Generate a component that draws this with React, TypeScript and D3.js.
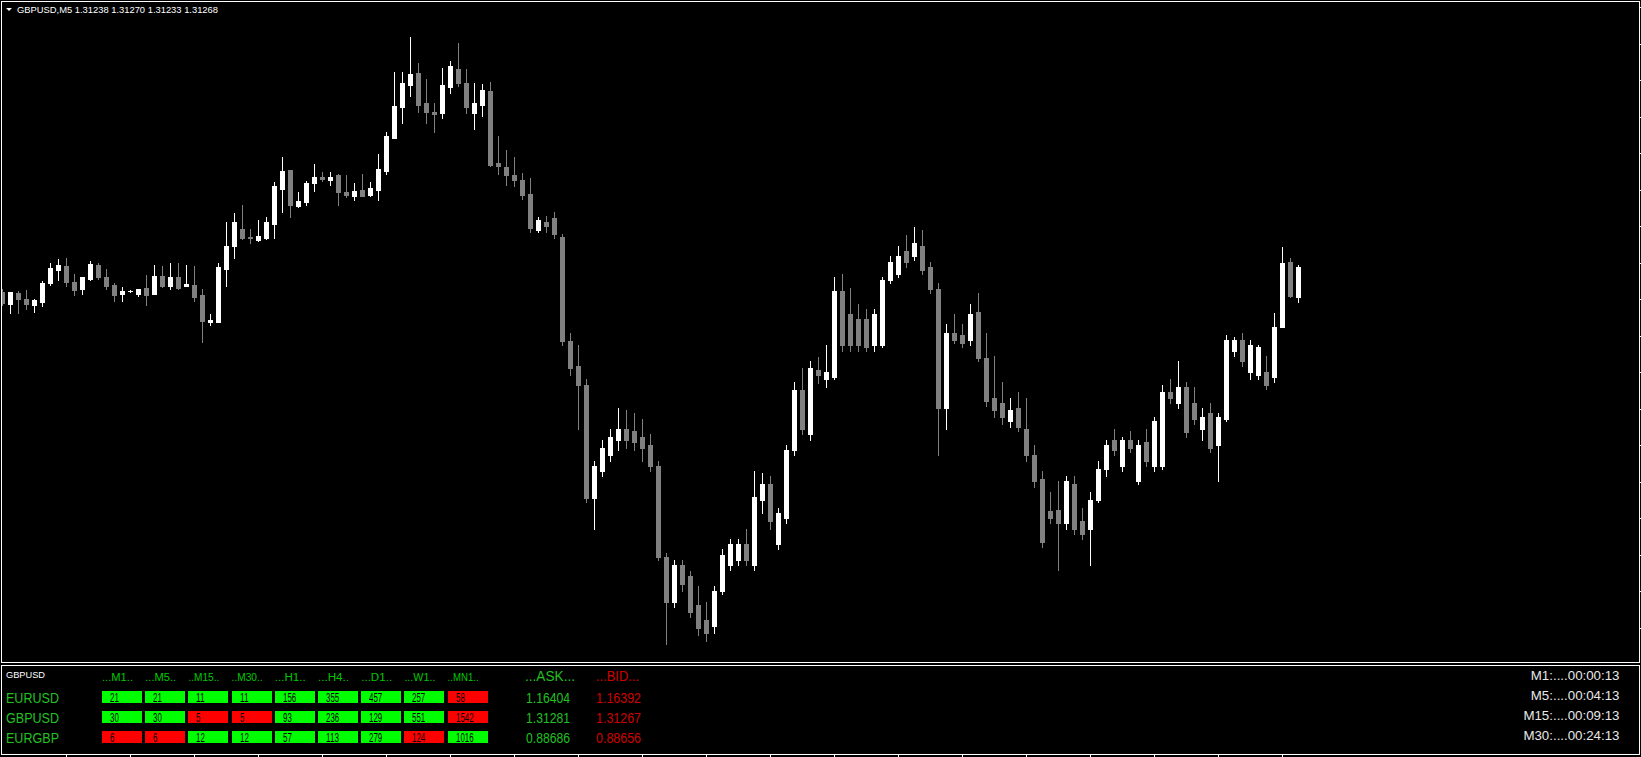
import React from 'react';
import * as d3 from 'd3';

// ---- price data (GBPUSD M5), oldest first ----
const opens = [
  1.31243,1.31231,1.31242,1.31236,1.31230,1.31233,1.31252,1.31265,1.31269,1.31253,
  1.31246,1.31256,1.31270,1.31258,1.31250,1.31241,1.31244,1.31241,1.31247,1.31241,
  1.31259,1.31249,1.31258,1.31249,1.31250,1.31240,1.31213,1.31213,1.31266,1.31289,
  1.31306,1.31298,1.31295,1.31297,1.31311,1.31346,1.31365,1.31329,1.31333,1.31352,
  1.31358,1.31355,1.31360,1.31343,1.31339,1.31345,1.31340,1.31345,1.31364,1.31397,
  1.31428,1.31450,1.31462,1.31432,1.31423,1.31422,1.31448,1.31466,1.31452,1.31422,
  1.31430,1.31444,1.31372,1.31368,1.31360,1.31355,1.31341,1.31305,1.31313,1.31317,
  1.31298,1.31194,1.31169,1.31150,1.31037,1.31064,1.31080,1.31095,1.31106,1.31104,
  1.31098,1.31090,1.31069,1.30978,1.30933,1.30970,1.30959,1.30930,1.30915,1.30909,
  1.30944,1.30970,1.30975,1.30991,1.30970,1.31035,1.31051,1.30991,1.31017,1.31085,
  1.31145,1.31101,1.31165,1.31156,1.31158,1.31244,1.31221,1.31216,1.31216,1.31190,1.31190,
  1.31255,1.31261,1.31284,1.31279,1.31289,1.31268,1.31246,1.31127,1.31202,1.31200,
  1.31195,1.31223,1.31177,1.31137,1.31132,1.31114,1.31127,1.31106,1.31080,1.31056,
  1.31024,1.31025,1.31012,1.31051,1.31014,1.31006,1.31035,1.31066,1.31095,
  1.31069,1.31095,1.31054,1.31093,1.31069,1.31069,1.31143,1.31132,1.31148,1.31132,
  1.31106,1.31122,1.31090,1.31116,1.31184,1.31195,1.31163,1.31160,1.31163,1.31158,
  1.31208,1.31273,1.31238,
];
const highs = [
  1.31246,1.31243,1.31244,1.31245,1.31236,1.31254,1.31272,1.31276,1.31277,1.31261,
  1.31258,1.31274,1.31272,1.31266,1.31252,1.31248,1.31245,1.31246,1.31260,1.31270,
  1.31269,1.31272,1.31272,1.31270,1.31269,1.31246,1.31221,1.31272,1.31313,1.31322,
  1.31330,1.31306,1.31315,1.31318,1.31353,1.31378,1.31365,1.31343,1.31354,1.31371,
  1.31363,1.31363,1.31361,1.31360,1.31352,1.31361,1.31353,1.31381,1.31403,1.31463,
  1.31463,1.31498,1.31472,1.31456,1.31432,1.31467,1.31474,1.31492,1.31466,1.31452,
  1.31451,1.31453,1.31399,1.31385,1.31378,1.31362,1.31357,1.31318,1.31319,1.31323,
  1.31301,1.31202,1.31190,1.31156,1.31074,1.31095,1.31106,1.31127,1.31125,1.31122,
  1.31116,1.31101,1.31074,1.30982,1.30975,1.30975,1.30964,1.30949,1.30933,1.30949,
  1.30986,1.30996,1.30996,1.31006,1.31064,1.31062,1.31059,1.31027,1.31090,1.31153,
  1.31167,1.31174,1.31178,1.31190,1.31258,1.31261,1.31247,1.31231,1.31226,1.31226,1.31258,
  1.31279,1.31289,1.31300,1.31308,1.31305,1.31273,1.31252,1.31211,1.31221,1.31211,
  1.31231,1.31242,1.31202,1.31179,1.31153,1.31137,1.31143,1.31137,1.31090,1.31064,
  1.31043,1.31054,1.31059,1.31059,1.31027,1.31043,1.31074,1.31095,1.31106,
  1.31098,1.31104,1.31095,1.31106,1.31118,1.31150,1.31156,1.31174,1.31153,1.31148,
  1.31127,1.31132,1.31122,1.31200,1.31198,1.31202,1.31195,1.31190,1.31179,1.31222,
  1.31288,1.31277,1.31270,
];
const lows = [
  1.31230,1.31222,1.31222,1.31226,1.31223,1.31229,1.31250,1.31255,1.31249,1.31240,
  1.31241,1.31255,1.31256,1.31246,1.31234,1.31234,1.31243,1.31239,1.31230,1.31241,
  1.31248,1.31246,1.31246,1.31249,1.31234,1.31193,1.31210,1.31213,1.31249,1.31277,
  1.31296,1.31292,1.31294,1.31296,1.31297,1.31323,1.31318,1.31328,1.31330,1.31344,
  1.31354,1.31350,1.31330,1.31338,1.31335,1.31339,1.31339,1.31335,1.31361,1.31397,
  1.31412,1.31439,1.31423,1.31412,1.31403,1.31417,1.31442,1.31449,1.31422,1.31406,
  1.31419,1.31369,1.31361,1.31350,1.31349,1.31336,1.31303,1.31303,1.31303,1.31297,
  1.31190,1.31160,1.31106,1.31033,1.31006,1.31059,1.31074,1.31085,1.31087,1.31085,
  1.31074,1.31064,1.30975,1.30891,1.30928,1.30944,1.30918,1.30900,1.30894,1.30902,
  1.30941,1.30965,1.30970,1.30970,1.30965,1.31022,1.31006,1.30986,1.31012,1.31080,
  1.31101,1.31095,1.31152,1.31148,1.31156,1.31184,1.31184,1.31184,1.31184,1.31184,1.31188,
  1.31252,1.31258,1.31268,1.31275,1.31261,1.31242,1.31080,1.31106,1.31192,1.31188,
  1.31190,1.31174,1.31129,1.31118,1.31111,1.31108,1.31104,1.31074,1.31048,1.30988,
  1.31012,1.30965,1.31006,1.31001,1.30996,1.30970,1.31033,1.31059,1.31080,
  1.31064,1.31083,1.31051,1.31069,1.31064,1.31066,1.31132,1.31127,1.31098,1.31111,
  1.31095,1.31083,1.31054,1.31114,1.31179,1.31169,1.31156,1.31156,1.31146,1.31153,
  1.31208,1.31238,1.31233,
];
const closes = [
  1.31232,1.31243,1.31236,1.31231,1.31235,1.31252,1.31267,1.31270,1.31253,1.31245,
  1.31258,1.31271,1.31258,1.31249,1.31240,1.31244,1.31244,1.31246,1.31240,1.31259,
  1.31249,1.31258,1.31247,1.31251,1.31238,1.31214,1.31215,1.31268,1.31289,1.31313,
  1.31297,1.31297,1.31299,1.31313,1.31349,1.31364,1.31330,1.31334,1.31352,1.31358,
  1.31356,1.31358,1.31343,1.31340,1.31344,1.31339,1.31347,1.31366,1.31399,1.31429,
  1.31452,1.31461,1.31430,1.31423,1.31421,1.31450,1.31469,1.31452,1.31428,1.31432,
  1.31445,1.31370,1.31369,1.31360,1.31355,1.31340,1.31307,1.31315,1.31309,1.31301,
  1.31194,1.31167,1.31150,1.31037,1.31069,1.31087,1.31098,1.31106,1.31095,1.31093,
  1.31087,1.31069,1.30978,1.30933,1.30970,1.30951,1.30923,1.30907,1.30902,1.30944,
  1.30980,1.30991,1.30991,1.30975,1.31038,1.31051,1.31014,1.31022,1.31085,1.31145,
  1.31106,1.31167,1.31160,1.31163,1.31244,1.31190,1.31190,1.31190,1.31188,1.31221,1.31255,
  1.31273,1.31279,1.31273,1.31292,1.31265,1.31246,1.31127,1.31202,1.31195,1.31192,
  1.31221,1.31177,1.31134,1.31125,1.31118,1.31125,1.31108,1.31080,1.31054,1.30993,
  1.31017,1.31012,1.31054,1.31006,1.31001,1.31035,1.31066,1.31090,1.31085,
  1.31095,1.31087,1.31090,1.31074,1.31114,1.31143,1.31137,1.31148,1.31103,1.31116,
  1.31118,1.31087,1.31118,1.31195,1.31195,1.31174,1.31190,1.31188,1.31150,1.31208,
  1.31272,1.31239,1.31268,
];

const headerText = 'GBPUSD,M5  1.31238 1.31270 1.31233 1.31268';
const panelSymbol = 'GBPUSD';
const pairs = ['EURUSD', 'GBPUSD', 'EURGBP'];
const timeframes = ['...M1..', '...M5..', '..M15..', '..M30..', '...H1..', '...H4..', '...D1..', '...W1..', '..MN1..'];
const strengthEURUSD = [21, 21, 11, 11, 156, 355, 457, 257, 58];
const strengthGBPUSD = [30, 30, 5, 5, 93, 236, 129, 551, 1542];
const strengthEURGBP = [6, 6, 12, 12, 57, 113, 279, 124, 1016];
const upEURUSD = [1, 1, 1, 1, 1, 1, 1, 1, 0];
const upGBPUSD = [1, 1, 0, 0, 1, 1, 1, 1, 0];
const upEURGBP = [0, 0, 1, 1, 1, 1, 1, 0, 1];
const askPrices = ['1.16404', '1.31281', '0.88686'];
const bidPrices = ['1.16392', '1.31267', '0.88656'];
const timerLabels = ['M1:....00:00:13', 'M5:....00:04:13', 'M15:....00:09:13', 'M30:....00:24:13'];

const W = 1641;
const H = 757;
const FONT = "'Liberation Sans', Arial, sans-serif";

export default function App() {
  const n = opens.length;
  const x = d3.scaleLinear().domain([0, 1]).range([2, 10]);
  const y = d3.scaleLinear().domain([1.31533, 1.30873]).range([2, 662]);

  const candles = d3.range(n).map((i) => {
    const o = opens[i], c = closes[i], hi = highs[i], lo = lows[i];
    const cx = Math.round(x(i));
    const top = Math.round(y(Math.max(o, c)));
    const bot = Math.round(y(Math.min(o, c)));
    const wt = Math.round(y(hi));
    const wb = Math.round(y(lo));
    const col = c >= o ? '#ffffff' : '#808080';
    return (
      <g key={i} fill={col}>
        <rect x={cx} y={wt} width={1} height={Math.max(1, wb - wt + 1)} />
        <rect x={cx - 2} y={top} width={5} height={Math.max(1, bot - top + 1)} />
      </g>
    );
  });

  const rows = [
    { name: pairs[0], vals: strengthEURUSD, up: upEURUSD },
    { name: pairs[1], vals: strengthGBPUSD, up: upGBPUSD },
    { name: pairs[2], vals: strengthEURGBP, up: upEURGBP },
  ];
  const colX = d3.scaleLinear().domain([0, 1]).range([102, 145.2]);

  const lastX = Math.round(x(n - 1));
  const timeTicks = d3.range(2 + 64, lastX + 1, 64);
  const priceTicks = d3.range(7, 662, 36.5);

  return (
    <svg width={W} height={H} style={{ position: 'absolute', left: 0, top: 0, background: '#000' }}>
      <rect x={0} y={0} width={W} height={H} fill="#000" />
      <defs>
        <clipPath id="mainclip">
          <rect x={2} y={2} width={1637} height={660} />
        </clipPath>
      </defs>
      <g clipPath="url(#mainclip)">{candles}</g>

      {/* frames */}
      <g fill="#ffffff">
        <rect x={1} y={1} width={1639} height={1} />
        <rect x={1} y={1} width={1} height={662} />
        <rect x={1639} y={1} width={1} height={662} />
        <rect x={1} y={662} width={1639} height={1} />
        <rect x={1} y={665} width={1639} height={1} />
        <rect x={1} y={665} width={1} height={90} />
        <rect x={1639} y={665} width={1} height={90} />
        <rect x={1} y={754} width={1639} height={1} />
        {priceTicks.map((t) => (
          <rect key={t} x={1640} y={Math.round(t)} width={1} height={1} />
        ))}
        {timeTicks.map((t) => (
          <rect key={t} x={t} y={755} width={1} height={2} />
        ))}
      </g>

      {/* header */}
      <path d="M6,8 L12,8 L9,11 Z" fill="#ffffff" />
      <text x={17} y={12.5} fill="#ffffff" fontFamily={FONT} fontSize={9.5} textLength={201} lengthAdjust="spacingAndGlyphs">
        {headerText}
      </text>

      {/* panel */}
      <text x={6} y={677.5} fill="#ffffff" fontFamily={FONT} fontSize={9.5} textLength={39} lengthAdjust="spacingAndGlyphs">
        {panelSymbol}
      </text>
      {timeframes.map((t, j) => (
        <text key={t} x={colX(j)} y={681} fill="#00c800" fontFamily={FONT} fontSize={10} textLength={31} lengthAdjust="spacingAndGlyphs">
          {t}
        </text>
      ))}
      {rows.map((r, ri) => (
        <g key={r.name}>
          <text x={6} y={702.7 + ri * 20} fill="#20c020" fontFamily={FONT} fontSize={14} textLength={53} lengthAdjust="spacingAndGlyphs">
            {r.name}
          </text>
          {r.vals.map((v, j) => (
            <g key={j}>
              <rect x={Math.round(colX(j))} y={691 + ri * 20} width={40} height={12} fill={r.up[j] ? '#00ff00' : '#ff0000'} />
              <text x={Math.round(colX(j)) + 8} y={701.5 + ri * 20} fill="#000" fontFamily={FONT} fontSize={12} textLength={String(v).length * 4.4} lengthAdjust="spacingAndGlyphs">
                {v}
              </text>
            </g>
          ))}
          <text x={526} y={702.5 + ri * 20} fill="#20c020" fontFamily={FONT} fontSize={14} textLength={44} lengthAdjust="spacingAndGlyphs">
            {askPrices[ri]}
          </text>
          <text x={596} y={702.5 + ri * 20} fill="#d00000" fontFamily={FONT} fontSize={14} textLength={45} lengthAdjust="spacingAndGlyphs">
            {bidPrices[ri]}
          </text>
        </g>
      ))}
      <text x={525} y={680.7} fill="#20c020" fontFamily={FONT} fontSize={14} textLength={50} lengthAdjust="spacingAndGlyphs">...ASK...</text>
      <text x={596} y={680.7} fill="#d00000" fontFamily={FONT} fontSize={14} textLength={43} lengthAdjust="spacingAndGlyphs">...BID...</text>

      {timerLabels.map((t, k) => (
        <text key={t} x={1619.5} y={679.5 + k * 20} fill="#e8e8e8" fontFamily={FONT} fontSize={13.3} textAnchor="end">
          {t}
        </text>
      ))}
    </svg>
  );
}
